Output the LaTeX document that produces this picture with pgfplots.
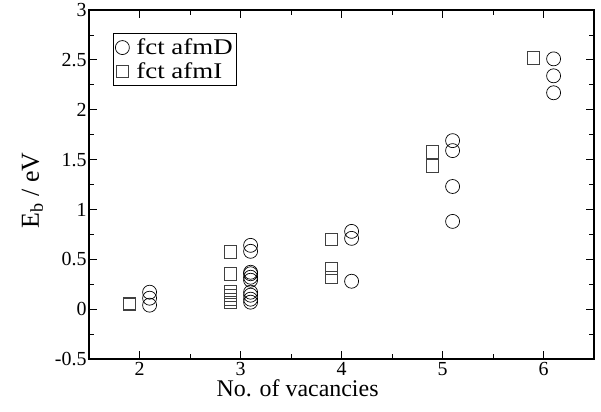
\documentclass[border=0pt]{standalone}
\usepackage{pgfplots}
\pgfplotsset{compat=1.18}
\usepackage{fontspec}
\setmainfont{Liberation Serif}
\newfontfamily\legfont[FakeStretch=1.2]{Liberation Serif}
\begin{document}
\begin{tikzpicture}
\begin{axis}[
  scale only axis,
  width=505bp, height=349bp,
  xmin=1.5, xmax=6.5, ymin=-0.5, ymax=3,
  xtick={2,3,4,5,6},
  ytick={-0.5,0,0.5,1,1.5,2,2.5,3},
  minor x tick num=1, minor y tick num=1,
  tick align=inside,
  major tick length=8bp, minor tick length=5bp,
  tick style={black, line width=0.8pt},
  axis line style={line width=1.2pt},
  xticklabel style={font=\fontsize{20}{20}\selectfont},
  yticklabel style={font=\fontsize{20}{20}\selectfont, xshift=1bp},
  /pgf/number format/assume math mode=true,
  xticklabel={\textrm{\pgfmathprintnumber{\tick}}},
  yticklabel={\textrm{\pgfmathprintnumber[fixed,precision=1]{\tick}}},
  xlabel={No. of vacancies},
  ylabel={E$_{\mathrm{b}}$ / eV},
  xlabel style={font=\fontsize{24}{24}\selectfont, at={(axis description cs:0.413,-0.05)}, anchor=north},
  ylabel style={font=\fontsize{26}{26}\selectfont, yshift=5bp, xshift=-6bp},
  legend style={at={(0.0475,0.934)}, anchor=north west, draw=black, line width=0.8pt,
    font=\legfont\fontsize{22.5}{22.5}\selectfont, inner xsep=2bp, inner ysep=3.5bp, row sep=2.5bp},
  legend cell align=left,
]
\addplot[only marks, mark=o, mark size=7bp, line width=0.7pt, black] coordinates {
 (2.1,0.04) (2.1,0.11) (2.1,0.17)
 (3.1,0.64) (3.1,0.58) (3.1,0.37) (3.1,0.355) (3.1,0.32) (3.1,0.29)
 (3.1,0.17) (3.1,0.14) (3.1,0.10) (3.1,0.07)
 (4.1,0.78) (4.1,0.71) (4.1,0.28)
 (5.1,1.69) (5.1,1.59) (5.1,1.23) (5.1,0.88)
 (6.1,2.51) (6.1,2.34) (6.1,2.17)
};
\addlegendentry{\hspace{5bp}fct afmD}
\addplot[only marks, mark=square, mark size=6.3bp, line width=0.7pt, black!75] coordinates {
 (1.9,0.05) (1.9,0.06)
 (2.9,0.575) (2.9,0.355) (2.9,0.175) (2.9,0.14) (2.9,0.10) (2.9,0.07)
 (3.9,0.70) (3.9,0.41) (3.9,0.32)
 (4.9,1.58) (4.9,1.44)
 (5.9,2.52)
};
\addlegendentry{\hspace{5bp}fct afmI}
\end{axis}
\path (current axis.south west) ++(-89bp,-52bp) coordinate (bl);
\path (current axis.north east) ++(7bp,8bp) coordinate (tr);
\path (bl) rectangle (tr);
\end{tikzpicture}
\end{document}
